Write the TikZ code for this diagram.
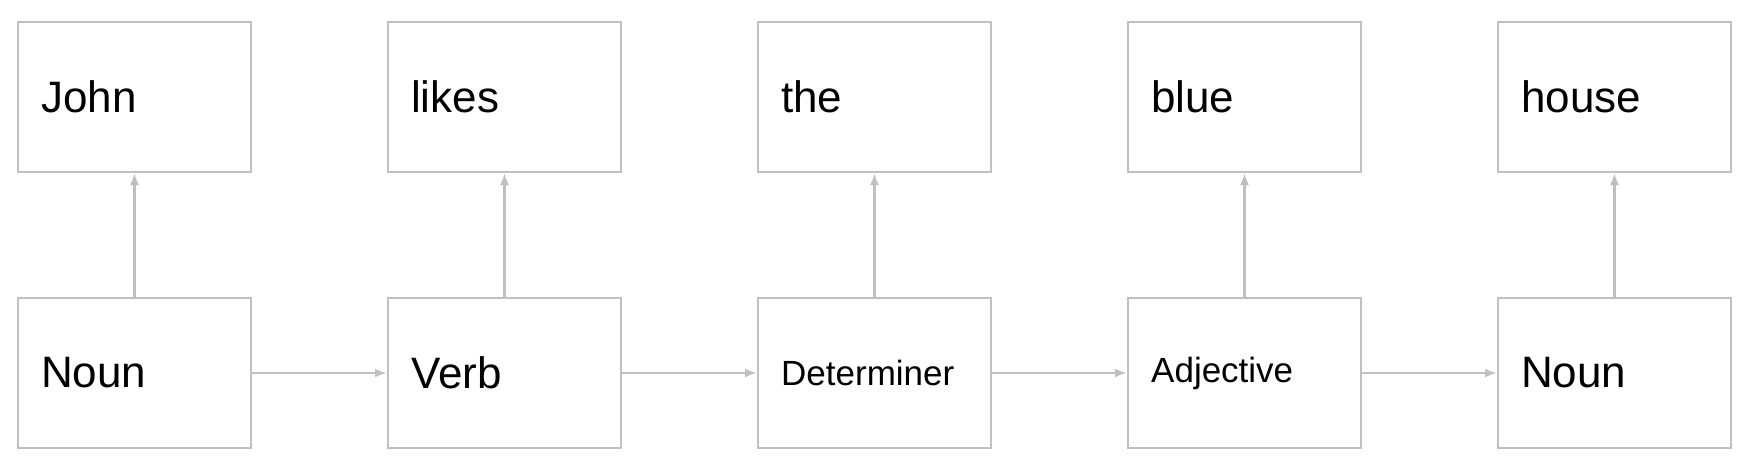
\documentclass[tikz,border=0pt]{standalone}
\usepackage{fontspec}
\setmainfont{Liberation Sans}
\usetikzlibrary{positioning,arrows.meta}
\definecolor{boxgray}{RGB}{192,192,192}

\begin{document}
\begin{tikzpicture}[
  wordbox/.style={draw=boxgray, line width=1.2pt, minimum width=116.3pt, minimum height=74.8pt,
    text width=93.3pt, inner xsep=11.5pt, inner ysep=0pt, align=left,
    font=\fontsize{22}{26}\selectfont},
  tagbox/.style={wordbox},
  smalltag/.style={font=\fontsize{17.5}{21}\selectfont},
  link/.style={-{Latex[length=6pt,width=4.5pt]}, draw=boxgray, line width=1.2pt}
]
\useasboundingbox (0,0) rectangle (871pt,231pt);
% tags
\node [tagbox] (noun1) at (67.25pt,44.5pt) {Noun};
\node [tagbox, right=67.5pt of noun1] (verb) {Verb};
\node [tagbox, smalltag, right=67.5pt of verb] (det) {Determiner};
\node [tagbox, smalltag, right=67.5pt of det] (adj) {Adjective};
\node [tagbox, right=67.5pt of adj] (noun2) {Noun};
% words
\node [wordbox, above=62pt of noun1] (john) {John};
\node [wordbox, above=62pt of verb] (likes) {likes};
\node [wordbox, above=62pt of det] (the) {the};
\node [wordbox, above=62pt of adj] (blue) {blue};
\node [wordbox, above=62pt of noun2] (house) {house};
% transitions
\draw [link] (noun1) -- (verb);
\draw [link] (verb) -- (det);
\draw [link] (det) -- (adj);
\draw [link] (adj) -- (noun2);
% emissions
\draw [link] (noun1) -- (john);
\draw [link] (verb) -- (likes);
\draw [link] (det) -- (the);
\draw [link] (adj) -- (blue);
\draw [link] (noun2) -- (house);
\end{tikzpicture}
\end{document}
